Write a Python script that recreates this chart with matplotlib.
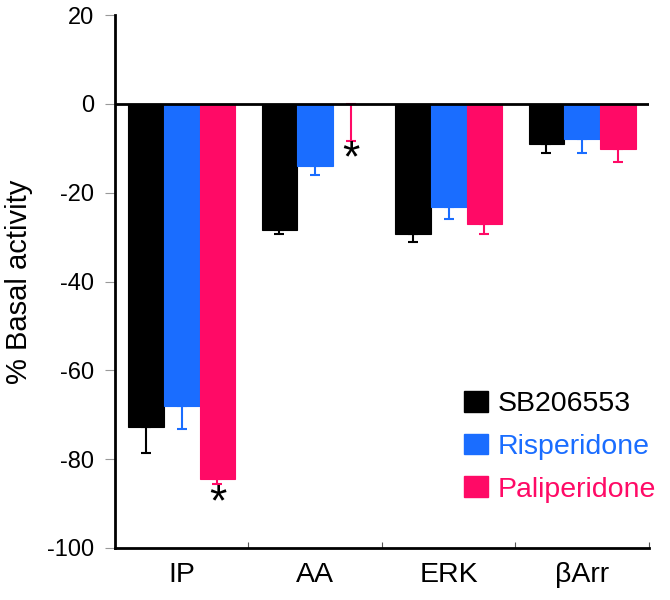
import numpy as np
import matplotlib.pyplot as plt
from matplotlib.patches import Patch

plt.rcParams['font.family'] = ['Liberation Sans', 'DejaVu Sans']

# Data
categories = ['IP', 'AA', 'ERK', 'βArr']
series = ['SB206553', 'Risperidone', 'Paliperidone']
colors = ['#000000', '#1a6dff', '#ff0a66']

sb_vals = [-72.8, -28.3, -29.2, -9.1]
sb_err = [5.7, 0.9, 1.8, 1.9]
ris_vals = [-68.1, -14.0, -23.1, -7.9]
ris_err = [5.2, 2.0, 2.9, 3.1]
pal_vals = [-84.4, 0.0, -27.1, -10.2]
pal_err = [1.1, 8.4, 2.1, 2.8]

# significance stars (on Paliperidone bars)
star_cats = [0, 1]
star_y = [-90.0, -12.5]

yticks = [20, 0, -20, -40, -60, -80, -100]

values = [sb_vals, ris_vals, pal_vals]
errors = [sb_err, ris_err, pal_err]

fig = plt.figure(figsize=(6.7, 6.0), dpi=100)
ax = fig.add_axes([0.1716, 0.0867, 0.797, 0.888])

centers = np.arange(len(categories)) + 0.5
width = 0.268
offsets = [-width, 0, width]

for vals, errs, col, off, name in zip(values, errors, colors, offsets, series):
    x = centers + off
    ax.bar(x, vals, width=width, color=col, edgecolor=col, linewidth=0.8,
           zorder=3, label=name)
    errs = np.array(errs)
    ax.errorbar(x, vals, yerr=[errs, np.zeros_like(errs)], fmt='none',
                ecolor=col, elinewidth=1.5, capsize=3.5, capthick=1.5, zorder=2)

for c, y in zip(star_cats, star_y):
    ax.text(centers[c] + offsets[2], y, '*', ha='center', va='center',
            fontsize=32, color='black')

ax.axhline(0, color='black', linewidth=2, zorder=4, xmax=1.005)

ax.set_xlim(0, len(categories))
ax.set_ylim(-100, 20)
ax.set_yticks(yticks)
ax.set_yticklabels([str(t) for t in yticks], fontsize=17)
ax.tick_params(axis='y', direction='out', length=7, width=0.8, color='#999999', pad=8)

ax.set_xticks(np.arange(1, len(categories) + 1))
ax.set_xticklabels([])
ax.tick_params(axis='x', which='major', direction='in', length=4, width=0.8, color='#555555')
ax.set_xticks(centers, minor=True)
ax.set_xticklabels(categories, minor=True, fontsize=20.5)
ax.tick_params(axis='x', which='minor', length=0, pad=10)

for s in ['top', 'right']:
    ax.spines[s].set_visible(False)
for s in ['left', 'bottom']:
    ax.spines[s].set_linewidth(2)

ax.set_ylabel('% Basal activity', fontsize=21, labelpad=10)

handles = [Patch(facecolor=c, edgecolor=c) for c in colors]
leg = ax.legend(handles, series, loc='center left', bbox_to_anchor=(0.654, 0.19),
                frameon=False, fontsize=20.5, handlelength=0.83, handleheight=0.75,
                handletextpad=0.35, labelspacing=0.58, borderaxespad=0, borderpad=0)
for txt, c in zip(leg.get_texts(), colors):
    txt.set_color(c)

fig.savefig('out.png', dpi=100)
